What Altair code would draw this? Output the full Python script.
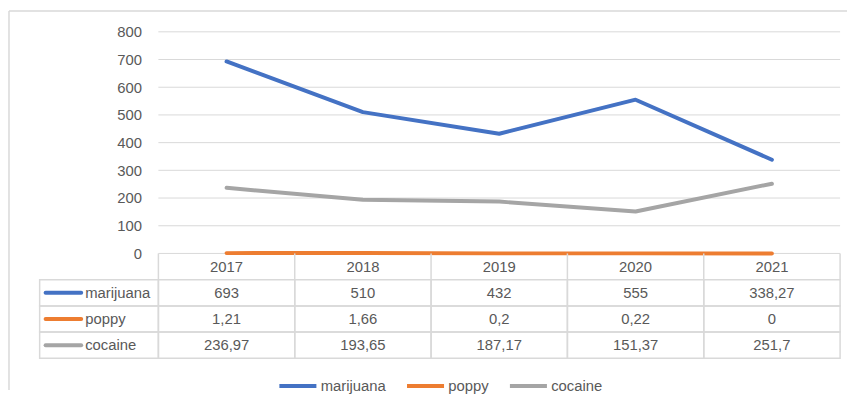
import altair as alt
import pandas as pd

# ---- data ----
years = [2017, 2018, 2019, 2020, 2021]
series = ["marijuana", "poppy", "cocaine"]
marijuana = [693, 510, 432, 555, 338.27]
poppy = [1.21, 1.66, 0.2, 0.22, 0]
cocaine = [236.97, 193.65, 187.17, 151.37, 251.7]
y_ticks = [0, 100, 200, 300, 400, 500, 600, 700, 800]
colors = ["#4472C4", "#ED7D31", "#A5A5A5"]

values = {"marijuana": marijuana, "poppy": poppy, "cocaine": cocaine}

# ---- layout constants ----
PANEL_W = 809
PLOT_H = 224
TABLE_H = 106
LABEL_COL_RATIO = 120 / 137.8  # label column width in year units
FONT = "Liberation Sans"
TXT = "#595959"
GRID = "#D9D9D9"

x_min = years[0] - 0.5 - LABEL_COL_RATIO
x_max = years[-1] + 0.5
x_scale = alt.Scale(domain=[x_min, x_max], nice=False, zero=False)
y_scale = alt.Scale(domain=[0, 800], nice=False)
color_scale = alt.Scale(domain=series, range=colors)

long_rows = []
for s in series:
    for yr, v in zip(years, values[s]):
        long_rows.append({"year": yr, "series": s, "value": v,
                          "label": f"{v:g}".replace(".", ",")})
long_df = pd.DataFrame(long_rows)

grid_df = pd.DataFrame({"tick": y_ticks, "gx0": years[0] - 0.5, "gx1": years[-1] + 0.5})
frame_df = pd.DataFrame({"frame": ["chart area"]})

# ---- top panel: lines ----
y_axis = alt.Axis(values=y_ticks, grid=False, domain=False, ticks=False,
                  title=None, offset=-120, labelPadding=17, labelOverlap=False,
                  labelFont=FONT, labelFontSize=15, labelColor=TXT)

grid = alt.Chart(grid_df).mark_rule(color=GRID, strokeWidth=1).encode(
    x=alt.X("gx0:Q", scale=x_scale, axis=None),
    x2="gx1:Q",
    y=alt.Y("tick:Q", scale=y_scale, axis=y_axis),
)

lines = alt.Chart(long_df).mark_line(strokeWidth=4, strokeCap="round", strokeJoin="round").encode(
    x=alt.X("year:Q", scale=x_scale, axis=None),
    y=alt.Y("value:Q", scale=y_scale, axis=y_axis),
    color=alt.Color("series:N", scale=color_scale, sort=series,
                    legend=alt.Legend(title=None, orient="none", direction="horizontal",
                                      legendX=240, legendY=337, padding=0,
                                      symbolType="stroke", symbolStrokeWidth=4,
                                      symbolSize=1400, labelFont=FONT, labelFontSize=15,
                                      labelColor=TXT, labelOffset=2, columnPadding=13)),
)

frame_top = alt.Chart(frame_df).mark_rule(color=GRID, strokeWidth=1.5).encode(
    x=alt.value(-31), x2=alt.value(816), y=alt.value(-21))
frame_left = alt.Chart(frame_df).mark_rule(color=GRID, strokeWidth=1.5).encode(
    x=alt.value(-31), y=alt.value(-21), y2=alt.value(362))

top = alt.layer(grid, lines, frame_top, frame_left).properties(width=PANEL_W, height=PLOT_H)

# ---- bottom panel: data table (rows indexed 0 = header, 1..3 = series) ----
row_idx = {s: i + 1 for i, s in enumerate(series)}
n_rows = len(series) + 1
ty_scale = alt.Scale(domain=[0, n_rows], nice=False, zero=False, reverse=True)

text_rows = []
for yr in years:
    text_rows.append({"r": 0.5, "xc": yr, "text": str(yr)})
for r in long_rows:
    text_rows.append({"r": row_idx[r["series"]] + 0.5, "xc": r["year"], "text": r["label"]})
text_df = pd.DataFrame(text_rows)

cell_rows = []
for s in series:
    i = row_idx[s]
    cell_rows.append({"r0": i, "r1": i + 1, "x0": x_min, "x1": years[0] - 0.5})
    for yr in years:
        cell_rows.append({"r0": i, "r1": i + 1, "x0": yr - 0.5, "x1": yr + 0.5})
cell_df = pd.DataFrame(cell_rows)

sep_df = pd.DataFrame({"bx": [yr - 0.5 for yr in years] + [years[-1] + 0.5],
                       "r0": 0, "r1": 1})

cells = alt.Chart(cell_df).mark_rect(fillOpacity=0, stroke=GRID, strokeWidth=1.5).encode(
    x=alt.X("x0:Q", scale=x_scale, axis=None),
    x2="x1:Q",
    y=alt.Y("r0:Q", scale=ty_scale, axis=None),
    y2="r1:Q",
)

header_seps = alt.Chart(sep_df).mark_rule(color=GRID, strokeWidth=1.5).encode(
    x=alt.X("bx:Q", scale=x_scale, axis=None),
    y=alt.Y("r0:Q", scale=ty_scale, axis=None),
    y2="r1:Q",
)

cell_text = alt.Chart(text_df).mark_text(
    font=FONT, fontSize=15, color=TXT, align="center", baseline="middle").encode(
    x=alt.X("xc:Q", scale=x_scale, axis=None),
    y=alt.Y("r:Q", scale=ty_scale, axis=None),
    text="text:N",
)

label_df = pd.DataFrame({"series": series, "r": [row_idx[s] + 0.5 for s in series], "xs": x_min})

label_sym = alt.Chart(label_df).mark_rule(strokeWidth=4, strokeCap="round",
                                          xOffset=6, x2Offset=42).encode(
    x=alt.X("xs:Q", scale=x_scale, axis=None),
    x2="xs:Q",
    y=alt.Y("r:Q", scale=ty_scale, axis=None),
    color=alt.Color("series:N", scale=color_scale, legend=None),
)

label_text = alt.Chart(label_df).mark_text(
    font=FONT, fontSize=15, color=TXT, align="left", baseline="middle", dx=46).encode(
    x=alt.X("xs:Q", scale=x_scale, axis=None),
    y=alt.Y("r:Q", scale=ty_scale, axis=None),
    text="series:N",
)

bottom = alt.layer(cells, header_seps, cell_text, label_sym, label_text).properties(
    width=PANEL_W, height=TABLE_H)

chart = alt.vconcat(top, bottom, spacing=0, bounds="flush").properties(
    padding=0, background="white"
).configure_view(stroke=None)

chart.save("out.html", embed_options={"renderer": "svg", "actions": False})
